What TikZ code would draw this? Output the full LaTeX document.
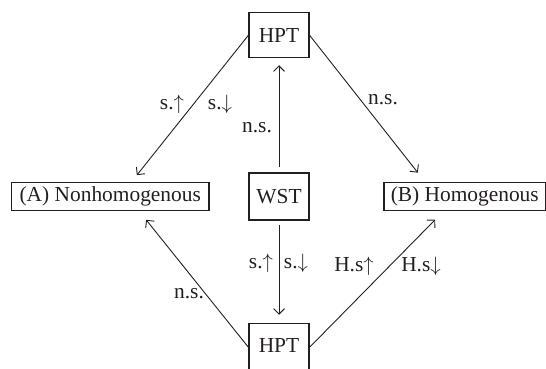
\documentclass[tikz,border=0pt]{standalone}
\usepackage{fontspec}
\setmainfont{Liberation Serif}
\usetikzlibrary{arrows.meta}
\definecolor{ink}{RGB}{35,31,32}
\begin{document}
\begin{tikzpicture}[x=1pt,y=-1pt,
  every node/.style={text=ink, font=\fontsize{21.4}{25}\selectfont},
  box/.style={draw=ink, line width=1.1pt, inner sep=0pt, align=center},
  smallbox/.style={box, minimum width=60pt},
  lbl/.style={inner sep=0pt},
  link/.style={draw=ink, line width=0.9pt,
    -{Straight Barb[length=5.5pt,width=11pt,line width=0.9pt]}}
]
\useasboundingbox (0,0) rectangle (546,369);

% boxes
\node[smallbox, minimum height=45pt] (top) at (279,35.2) {HPT};
\node[smallbox, minimum height=47pt] (wst) at (279,196.5) {WST};
\node[smallbox, minimum height=48pt, text depth=4pt] (bot) at (279,347.3) {HPT};
\node[box, minimum width=197.5pt, minimum height=28pt] (A) at (110.25,196.7) {(A) Nonhomogenous};
\node[box, minimum width=161.5pt, minimum height=27.5pt] (B) at (464.75,196.4) {(B) Homogenous};

% connectors
\draw[link, shorten >=9pt] (top.west) -- ([xshift=21pt]A.north);
\draw[link, shorten >=12pt] (top.east) -- ([xshift=-39.5pt]B.north);
\draw[link, shorten <=5pt, shorten >=7pt] (wst.north) -- (top.south);
\draw[link, shorten <=4pt, shorten >=8pt] (wst.south) -- (bot.north);
\draw[link, shorten >=11pt] (bot.west) -- ([xshift=29pt]A.south);
\draw[link, shorten >=12.6pt] (bot.east) -- ([xshift=-20.7pt]B.south);

% labels
\node[lbl] (l1) at (172,104) {s.$\uparrow$};
\node[lbl] (l2) at (220,104) {s.$\downarrow$};
\node[lbl] (l3) at (257,128) {n.s.};
\node[lbl] (l4) at (383,100) {n.s.};
\node[lbl] (l5) at (261,263) {s.$\uparrow$};
\node[lbl] (l6) at (296,263) {s.$\downarrow$};
\node[lbl] (l7) at (354,266) {H.s$\uparrow$};
\node[lbl] (l8) at (421,266) {H.s$\downarrow$};
\node[lbl] (l9) at (189,294) {n.s.};
\end{tikzpicture}
\end{document}
